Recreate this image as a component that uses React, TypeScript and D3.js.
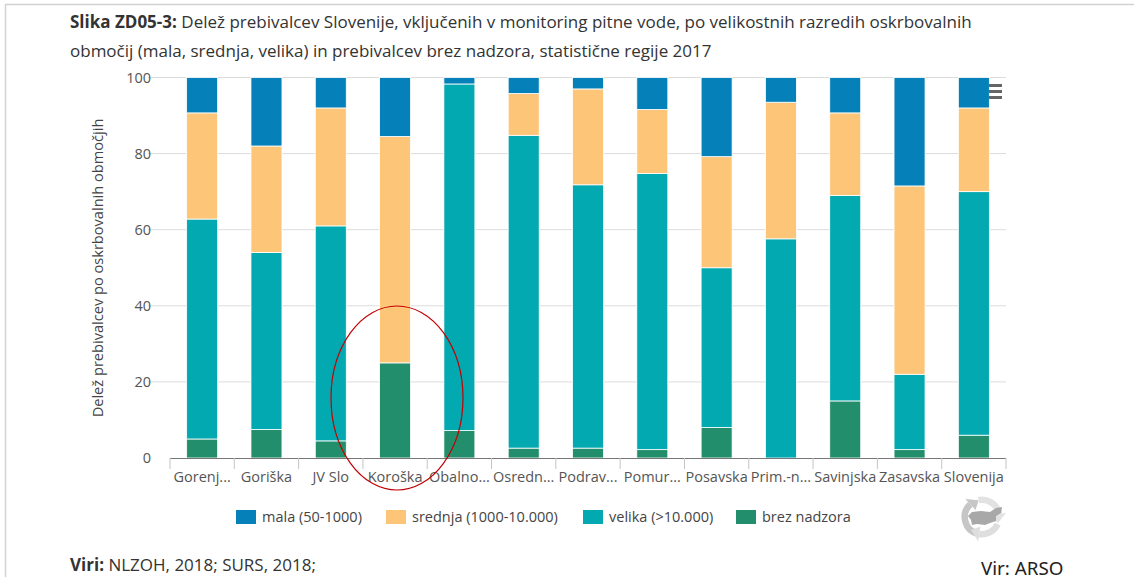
import React from "react";
import * as d3 from "d3";

const categories = ["Gorenj...", "Goriška", "JV Slo", "Koroška", "Obalno...", "Osredn...", "Podrav...", "Pomur...", "Posavska", "Prim.-n...", "Savinjska", "Zasavska", "Slovenija"];
const brez = [5, 7.5, 4.5, 25, 7.2, 2.6, 2.6, 2.2, 8, 0, 15, 2.2, 6];
const velika = [57.8, 46.5, 56.5, 0, 91.1, 82.2, 69.2, 72.6, 42, 57.6, 54, 19.8, 64];
const srednja = [27.9, 28, 31, 59.5, 0, 11, 25.2, 16.8, 29.2, 35.9, 21.7, 49.5, 22];
const mala = [9.3, 18, 8, 15.5, 1.7, 4.2, 3, 8.4, 20.8, 6.5, 9.3, 28.5, 8];
const yTicks = [0, 20, 40, 60, 80, 100];
const legendLabels = ["mala (50-1000)", "srednja (1000-10.000)", "velika (>10.000)", "brez nadzora"];
const legendX = [236, 386, 583, 736];
const colors = { mala: "#0580b8", srednja: "#fdc578", velika: "#02a9b0", brez: "#238e6b" };
const seriesNames = ["brez", "velika", "srednja", "mala"];
const legendColors = [colors.mala, colors.srednja, colors.velika, colors.brez];
const font = "'Open Sans', 'Noto Sans', sans-serif";

function LogoArrow({ start, end, fill }: { start: number; end: number; fill: string }) {
  const cx = 982;
  const cy = 517;
  const arc = d3.arc()({ innerRadius: 14, outerRadius: 20.5, startAngle: start, endAngle: end } as any) as string;
  const rm = 17;
  const tipA = end + 0.55;
  const p = (r: number, a: number) => [r * Math.sin(a), -r * Math.cos(a)];
  const head = [p(rm - 7.5, end), p(rm + 7.5, end), p(rm, tipA)].map((q) => q.join(",")).join(" ");
  return (
    <g transform={`translate(${cx},${cy})`} fill={fill}>
      <path d={arc} />
      <polygon points={head} />
    </g>
  );
}

export default function App() {
  const x = d3.scaleBand<string>().domain(categories).range([170, 1006]);
  const y = d3.scaleLinear().domain([0, 100]).range([458, 77.5]);
  const rows = categories.map((c, i) => ({ c, brez: brez[i], velika: velika[i], srednja: srednja[i], mala: mala[i] }));
  const stacked = d3.stack<any>().keys(seriesNames)(rows);
  const barW = 31;
  const tickXs = [...categories.map((c) => x(c)!), 1006];
  return (
    <svg width={1134} height={577} style={{ position: "absolute", left: 0, top: 0, background: "#fff" }} fontFamily={font}>
      <defs>
        <filter id="soft"><feGaussianBlur stdDeviation={0.7} /></filter>
      </defs>
      <path d="M5.5 577V4.5H1134" fill="none" stroke="#d2d2d2" strokeWidth={1.5} />
      <text x={70} y={28} fontSize={17} fill="#333">
        <tspan fontWeight={700}>Slika ZD05-3:</tspan> Delež prebivalcev Slovenije, vključenih v monitoring pitne vode, po velikostnih razredih oskrbovalnih
      </text>
      <text x={70} y={57} fontSize={17} fill="#333">območij (mala, srednja, velika) in prebivalcev brez nadzora, statistične regije 2017</text>

      {yTicks.filter((t) => t > 0).map((t) => (
        <line key={t} x1={148} x2={1006} y1={y(t)} y2={y(t)} stroke="#dcdcdc" />
      ))}
      {yTicks.map((t) => (
        <text key={t} x={151} y={y(t) + 5} textAnchor="end" fontSize={14.5} fill="#555">{t}</text>
      ))}
      <text transform="translate(103,268) rotate(-90)" textAnchor="middle" fontSize={14.6} fill="#444">Delež prebivalcev po oskrbovalnih območjih</text>

      {stacked.map((layer) =>
        layer.map((d, i) => (
          d[1] - d[0] > 0 ? (
            <rect
              key={layer.key + i}
              x={x(categories[i])! + (x.bandwidth() - barW) / 2}
              width={barW}
              y={y(d[1])}
              height={y(d[0]) - y(d[1])}
              fill={(colors as any)[layer.key]}
              stroke="#fff"
              strokeWidth={0.8}
            />
          ) : null
        ))
      )}

      <line x1={170} x2={1006} y1={458.5} y2={458.5} stroke="#777" strokeWidth={1} />
      {tickXs.map((t, i) => (
        <line key={i} x1={t} x2={t} y1={458} y2={469} stroke="#c4c4c4" />
      ))}
      {categories.map((c) => (
        <text key={c} x={x(c)! + x.bandwidth() / 2} y={482} textAnchor="middle" fontSize={14.5} fill="#555">{c}</text>
      ))}

      {legendLabels.map((l, i) => (
        <g key={l}>
          <rect x={legendX[i]} y={510} width={20} height={14} fill={legendColors[i]} />
          <text x={legendX[i] + 26} y={522} fontSize={14.5} fill="#444">{l}</text>
        </g>
      ))}

      <g fill="#666">
        <rect x={989} y={84} width={13} height={3} />
        <rect x={989} y={90} width={13} height={3} />
        <rect x={989} y={96} width={13} height={3} />
      </g>

      <g filter="url(#soft)">
        <LogoArrow start={-2.9} end={-0.75} fill="#c6c6c6" />
        <LogoArrow start={-0.2} end={1.4} fill="#e2e2e2" />
        <LogoArrow start={2.0} end={3.3} fill="#dedede" />
        <path d="M972 512l9-1 9 1 6-4 6-1-1 6-5 3 0 5-6 2-5 2-8-1-5 1-1-5-3-4z" fill="#a8a8a8" />
      </g>

      <text x={70} y={571} fontSize={17} fill="#333">
        <tspan fontWeight={700}>Viri:</tspan> NLZOH, 2018; SURS, 2018;
      </text>
      <text x={981} y={575} fontSize={18.8} fontFamily="'Noto Sans', 'Open Sans', sans-serif" fill="#222">Vir: ARSO</text>

      <ellipse cx={397} cy={398} rx={66} ry={92} fill="none" stroke="#c00000" strokeWidth={1.2} />
    </svg>
  );
}
